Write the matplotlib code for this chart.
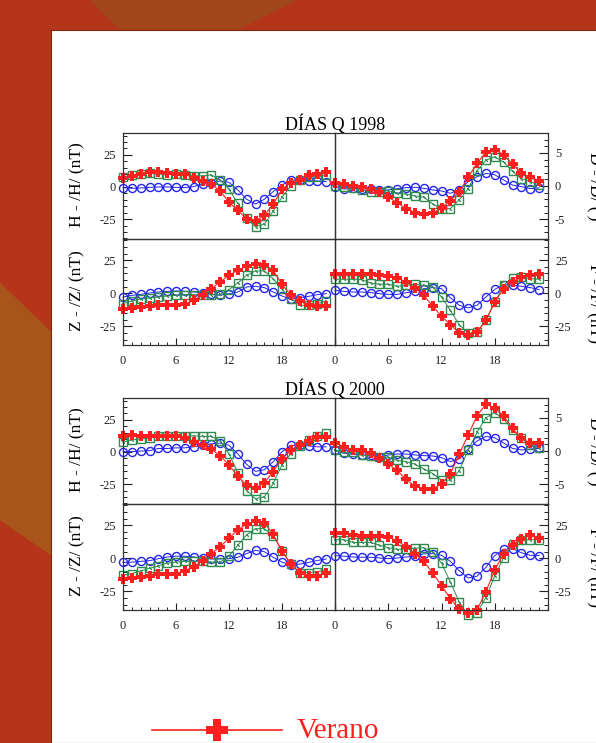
import matplotlib.pyplot as plt
import numpy as np
from matplotlib.patches import Rectangle, Polygon
from matplotlib.ticker import MultipleLocator, FixedLocator

plt.rcParams['font.family'] = ['Liberation Serif', 'DejaVu Serif']
plt.rcParams['axes.unicode_minus'] = False

horas = np.arange(24)

# DIAS Q 1998  (rojo = verano, verde = equinoccio, azul = invierno)
h98_ver = [7.3, 8.9, 10, 11.5, 11.5, 10.7, 10, 10, 6.8, 4.7, 2.3, -3, -12, -18, -25, -26.5,
           -22, -13.5, -1.8, 3.4, 5.5, 9, 10, 11.5]
h98_equ = [8, 9, 10, 10.7, 10, 9.6, 10, 9.6, 8.9, 8.6, 9.4, 5.2, -1.8, -12.8, -24.5, -31,
           -29, -18.8, -8, 0.8, 5.5, 8, 8, 9]
h98_inv = [-0.5, -1, -0.8, -0.3, 0, 0, -0.3, -0.5, 0.3, 2.3, 2.9, 4.7, 3.6, -2.3, -9.6, -13.3,
           -9.6, -3.6, 1.6, 5.2, 5.5, 5, 4.7, 4.2]

d98_ver = [0.5, 0.3, 0, -0.2, -0.5, -0.9, -1.7, -2.5, -3.4, -4.0, -4.3, -4.1, -3.3, -2.2, -0.9, 1.3,
           3.4, 5.1, 5.5, 4.7, 3.3, 2.0, 1.3, 0.8]
d98_equ = [0, -0.2, -0.35, -0.6, -0.9, -0.9, -0.7, -1.1, -1.2, -1.5, -1.7, -2.7, -3.5, -3.4, -2.1, -0.45,
           2.3, 3.9, 4.4, 3.6, 2.2, 1.1, 0.65, 0.15]
d98_inv = [-0.2, -0.45, -0.35, -0.45, -0.45, -0.6, -0.6, -0.4, -0.25, -0.2, -0.35, -0.6, -0.75, -1.1, -0.6, 0.65,
           1.4, 1.9, 1.7, 0.9, 0.15, -0.1, -0.4, -0.3]

z98_ver = [-12, -11, -10.4, -9.8, -9.1, -9.1, -8.6, -8.3, -5.3, -1, 3.5, 8.6, 13.6, 17.4, 20.5, 22,
           21.7, 17.4, 6.8, -1.5, -5.8, -9.1, -9.6, -9.8]
z98_equ = [-7.8, -5.8, -4.5, -3.5, -2.8, -2, -1.5, -1, -1, -1.5, -1, -0.8, 2.8, 7.8, 13.6, 16.9,
           16.9, 11, 3, -4, -9.1, -9.1, -7.8, -6]
z98_inv = [-2.8, -1.5, -0.8, 0.25, 1, 1.5, 1.8, 1.5, 1, 0.5, -0.8, -1.5, -0.25, 1, 4.8, 5.3,
           4.3, 1, -2, -4.5, -3.3, -2.3, -1, -0.25]

f98_ver = [14.9, 14.9, 14.9, 14.9, 14.4, 13.6, 12.9, 11.9, 8.6, 4.3, -1.5, -9.6, -17.2, -23.7, -30, -31.8,
           -29.3, -20.5, -6.6, 3.5, 8.6, 12.4, 13.6, 14.4]
f98_equ = [10.6, 10.6, 10.6, 10.4, 7.8, 6.8, 6.8, 5.3, 6, 6.8, 6, 4.8, -2.8, -12.9, -23.7, -30,
           -29.3, -20, -6.6, 6, 11.6, 12.4, 11.1, 10.6]
f98_inv = [2.3, 1.5, 1, 1, 0.5, -0.25, -0.8, -0.8, 0.5, 1.5, 3.5, 4.3, 3.5, -3.3, -9, -11,
           -9, -2.8, 3, 6.6, 6, 5.3, 4.3, 2.8]

# DIAS Q 2000
h00_ver = [12.6, 13.1, 12.1, 12.1, 12.6, 12.6, 12.1, 10.6, 7.7, 5.2, 2.2, -3, -10.1, -19, -25.7, -28.2,
           -24, -15.3, -5.4, 1.5, 5.2, 8.4, 11.4, 11.4]
h00_equ = [7.7, 9.4, 10.1, 10.9, 12.6, 12.6, 12.1, 12.1, 12.6, 12.1, 12.1, 8.9, -1.5, -16.3, -30, -36.4,
           -35, -24.5, -10.1, -1.5, 4.7, 9.7, 12.6, 14.4]
h00_inv = [0.25, 0.25, 0.7, 1, 2.7, 2.7, 3.2, 3.2, 4, 5.2, 6.4, 6.9, 5.2, -1.5, -9.7, -15.1,
           -13.9, -7.7, 0.25, 5.2, 5.2, 4.7, 4, 4]

d00_ver = [1.2, 0.66, 0.15, 0.15, -0.36, -1.1, -2, -2.9, -4.3, -5.3, -5.7, -5.7, -5, -3.4, -0.46, 2.4,
           5.3, 7.1, 6.5, 5.3, 3.4, 1.9, 1.2, 1.2]
d00_equ = [0.15, -0.2, -0.2, -0.6, -0.7, -0.9, -0.9, -1.4, -1.6, -2, -2.7, -3.4, -4.4, -4.4, -3, 0.15,
           2.8, 5, 5.8, 4.8, 3.2, 1.9, 0.9, 0.5]
d00_inv = [0.15, -0.36, -0.46, -0.6, -0.6, -0.9, -0.6, -0.46, -0.46, -0.6, -0.7, -0.75, -1, -1.6, -1.2, 0.3,
           1.5, 2.2, 2, 1.2, 0.4, 0.15, 0.3, 0.4]

z00_ver = [-15.4, -14.8, -14, -13.3, -12.2, -12.2, -11.5, -9.4, -6.3, -1.8, 3.4, 8.9, 15.1, 21.6, 25.8, 28.4,
           26.8, 18, 5.5, -4.2, -10.9, -13.3, -13.3, -10.9]
z00_equ = [-12.8, -11.5, -9.4, -7.6, -5.7, -3.6, -2.9, -2.3, -2.3, -2.3, -2.9, -2.9, 1.6, 9.9, 17.7, 22.4,
           22.4, 17.2, 5.5, -4.2, -10.7, -10.7, -10.2, -8.3]
z00_inv = [-3.1, -2.9, -2.3, -1.8, -0.26, 1, 1.6, 1.6, 1, 0.26, -0.5, -0.5, -0.26, 0.8, 3.6, 6,
           5, 0.8, -2.9, -4.9, -4.4, -3.1, -1.6, -0.5]

f00_ver = [19.3, 19.3, 17.7, 16.7, 16.7, 16.7, 15.9, 13.3, 8.9, 3.6, -2.3, -10.9, -20.6, -30.5, -38.3, -41.4,
           -38.8, -25.3, -8.9, 3.6, 9.9, 14.6, 17.7, 15.1]
f00_equ = [14.1, 14.1, 12, 12, 12, 9.9, 8.1, 6.8, 6.8, 7.6, 8.1, 4.7, -3.6, -18, -33, -42.7,
           -40.9, -29.7, -13.3, 0.26, 10.7, 13.8, 14.1, 14.1]
f00_inv = [2.1, 1.6, 1, 0.8, 0.8, 0.26, -0.26, 0.26, 1, 1.6, 3.4, 3.6, 2.3, -2.3, -9.4, -14.8,
           -13.5, -6.8, 2.1, 6.8, 7.3, 4.2, 2.3, 2.1]

ROJO = '#ff1f1f'
VERDE = '#2f8a50'
AZUL = '#2424f0'
W, H = 596, 743

fig = plt.figure(figsize=(W / 100, H / 100), dpi=100)
fig.patch.set_facecolor('#b5351a')

# fondo de la diapositiva (detras de los ejes)
fondo = [
    Polygon([[0, 0.62], [0.09, 0.55], [0.09, 0.25], [0, 0.3]], closed=True,
            transform=fig.transFigure, facecolor='#a8551c', edgecolor='none'),
    Polygon([[0.15, 1], [0.5, 1], [0.4, 0.96], [0.2, 0.96]], closed=True,
            transform=fig.transFigure, facecolor='#a2461c', edgecolor='none'),
    Rectangle((51 / W, 0), 1, 1 - 30 / H, transform=fig.transFigure,
              facecolor='white', edgecolor='#7a2a10', lw=0.8),
]
for p in fondo:
    p.set_zorder(-10)
    fig.patches.append(p)


def pos(x0, y0, x1, y1):
    return [x0 / W, 1 - y1 / H, (x1 - x0) / W, (y1 - y0) / H]


def dibujar(ax, ver, equ, inv):
    ax.plot(horas, inv, '-o', color=AZUL, mfc='none', ms=5.8, mew=1, lw=0.7, clip_on=False)
    ax.plot(horas, equ, '-s', color=VERDE, mfc='none', ms=6, mew=1, lw=0.7, clip_on=False)
    ax.plot(horas, equ, ls='none', marker=(2, 2, 45), color=VERDE, ms=2.6, mew=0.7, clip_on=False)
    ax.plot(horas, ver, '-P', color=ROJO, ms=7.8, mew=0, lw=0.8, clip_on=False)


def ejes(ax, lim, mayor, menor, derecha, abajo):
    ax.set_facecolor('none')
    ax.set_xlim(0, 24)
    ax.set_ylim(*lim)
    ax.yaxis.set_major_locator(MultipleLocator(mayor))
    ax.yaxis.set_minor_locator(MultipleLocator(menor))
    ax.tick_params(axis='y', which='both', direction='in', colors='#222222',
                   left=not derecha, right=derecha, labelleft=not derecha, labelright=derecha,
                   labelsize=9, pad=5)
    ax.tick_params(axis='y', which='major', length=6.5, width=0.8)
    ax.tick_params(axis='y', which='minor', length=3, width=0.7)
    if abajo:
        ax.xaxis.set_major_locator(FixedLocator([0, 6, 12, 18, 24]))
        ax.xaxis.set_minor_locator(MultipleLocator(1))
        ax.set_xticklabels(['0', '6', '12', '18', ''])
        ax.tick_params(axis='x', which='both', direction='in', colors='#222222',
                       top=False, labelsize=9, pad=7)
        ax.tick_params(axis='x', which='major', length=5, width=0.8)
        ax.tick_params(axis='x', which='minor', length=2.5, width=0.7)
    else:
        ax.tick_params(axis='x', which='both', bottom=False, top=False, labelbottom=False)
    for s in ax.spines.values():
        s.set_linewidth(0.9)
        s.set_color('#333333')


grupos = [
    ('DÍAS Q 1998', 133, [h98_ver, h98_equ, h98_inv], [d98_ver, d98_equ, d98_inv],
     [z98_ver, z98_equ, z98_inv], [f98_ver, f98_equ, f98_inv]),
    ('DÍAS Q 2000', 398, [h00_ver, h00_equ, h00_inv], [d00_ver, d00_equ, d00_inv],
     [z00_ver, z00_equ, z00_inv], [f00_ver, f00_equ, f00_inv]),
]

for titulo, y0, hh, dd, zz, ff in grupos:
    ym = y0 + 106
    yb = y0 + 212
    ax_h = fig.add_axes(pos(123, y0, 335, ym))
    ax_d = fig.add_axes(pos(335, y0, 548, ym))
    ax_z = fig.add_axes(pos(123, ym, 335, yb))
    ax_f = fig.add_axes(pos(335, ym, 548, yb))
    dibujar(ax_h, *hh)
    dibujar(ax_d, *dd)
    dibujar(ax_z, *zz)
    dibujar(ax_f, *ff)
    ejes(ax_h, (-40.5, 42), 25, 5, False, False)
    ejes(ax_d, (-8, 8), 5, 1, True, False)
    ejes(ax_z, (-39, 41), 25, 5, False, True)
    ejes(ax_f, (-39, 41), 25, 5, True, True)
    fig.text(335 / W, 1 - (y0 - 3) / H, titulo, ha='center', va='baseline', fontsize=13)
    fig.text(77 / W, 1 - (y0 + 52) / H, 'H - /H/ (nT)', rotation=90, ha='center', va='center', fontsize=12.5)
    fig.text(77 / W, 1 - (y0 + 158) / H, 'Z - /Z/ (nT)', rotation=90, ha='center', va='center', fontsize=12.5)
    fig.text(594 / W, 1 - (y0 + 53) / H, "D - /D/ (')", rotation=270, ha='center', va='center', fontsize=12.5)
    fig.text(594 / W, 1 - (y0 + 170) / H, 'F - /F/ (nT)', rotation=270, ha='center', va='center', fontsize=12.5)

# leyenda (solo se ve la primera entrada)
ax_ley = fig.add_axes([0, 0, 1, 1], facecolor='none')
ax_ley.set_xlim(0, W)
ax_ley.set_ylim(H, 0)
ax_ley.axis('off')
ax_ley.plot([152, 282], [730, 730], color=ROJO, lw=1.2)
ax_ley.plot([217], [730], marker='P', color=ROJO, ms=16, mew=0)
ax_ley.text(297, 731, 'Verano', color=ROJO, fontsize=21, va='center', ha='left')

fig.savefig('out.png', dpi=100, facecolor=fig.get_facecolor())
